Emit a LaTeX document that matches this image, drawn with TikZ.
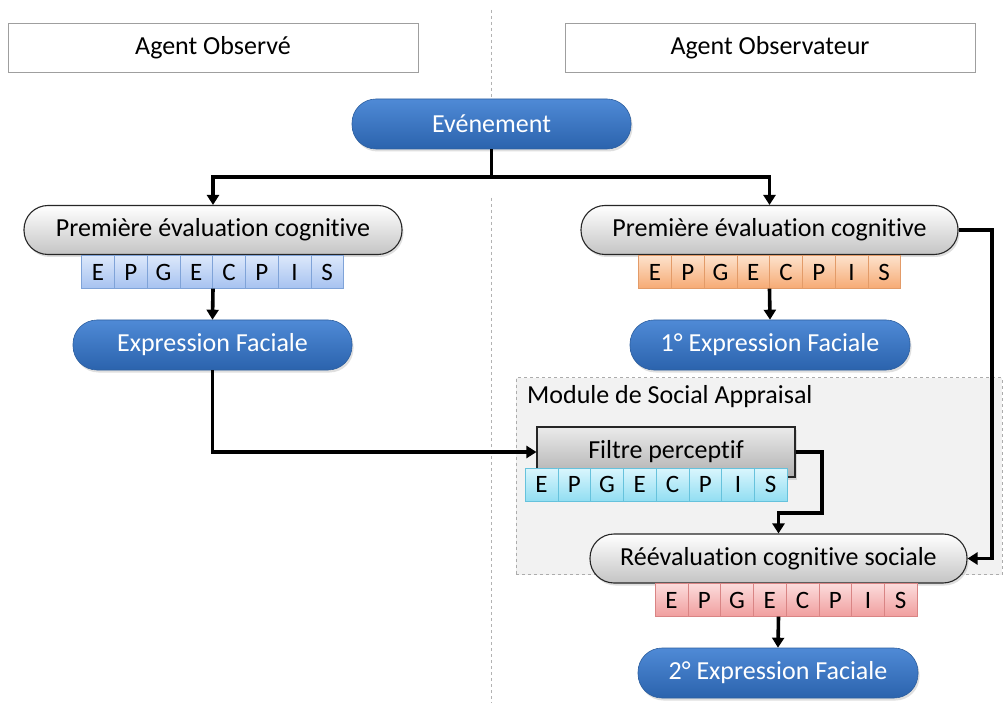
\documentclass[tikz,border=0pt]{standalone}
\usepackage{fontspec}
\setmainfont{Carlito}[Ligatures=NoCommon]
\usetikzlibrary{arrows.meta,shadows,calc}
\definecolor{blueTop}{HTML}{4F8AD6}
\definecolor{blueBot}{HTML}{2B63AD}
\definecolor{blueLine}{HTML}{2D5F9F}
\definecolor{grayBot}{HTML}{C4C4C4}
\definecolor{barBlueT}{HTML}{DCE8FB}
\definecolor{barBlueB}{HTML}{A6C2F0}
\definecolor{barBlueL}{HTML}{7FA3D8}
\definecolor{barOrT}{HTML}{FDE2CC}
\definecolor{barOrB}{HTML}{F6AA74}
\definecolor{barOrL}{HTML}{E39B68}
\definecolor{barCyT}{HTML}{DAF6FD}
\definecolor{barCyB}{HTML}{92DEF2}
\definecolor{barCyL}{HTML}{66C2DC}
\definecolor{barRdT}{HTML}{FCDCDC}
\definecolor{barRdB}{HTML}{F09E9E}
\definecolor{barRdL}{HTML}{D98484}
\definecolor{modFill}{HTML}{F2F2F2}
\tikzset{
  txt/.style={font=\fontsize{26}{30}\selectfont},
  header/.style={draw=gray!75, line width=0.8, fill=white, minimum width=410, minimum height=49, inner sep=0, txt},
  bluepill/.style={rounded corners=24, top color=blueTop, bottom color=blueBot, draw=blueLine, line width=0.6,
     text=white, minimum height=50, inner sep=0, txt, drop shadow={opacity=0.25, shadow xshift=1.5pt, shadow yshift=-2.5pt}},
  graypill/.style={rounded corners=24, top color=white, bottom color=grayBot, draw=black!85, line width=1.1,
     minimum height=49, inner sep=0, txt, drop shadow={opacity=0.25, shadow xshift=1.5pt, shadow yshift=-2.5pt}},
  filtrebox/.style={top color=white!92!black, bottom color=grayBot!90!black, draw=black!85, line width=1.1,
     minimum height=50, minimum width=258, inner sep=0, txt, drop shadow={opacity=0.25, shadow xshift=1.5pt, shadow yshift=-2.5pt}},
  barbox/.style={minimum width=262, minimum height=33, inner sep=0, draw=none},
  cellbox/.style={minimum width=32.75, minimum height=33, inner sep=0, line width=0.6, font=\fontsize{25}{28}\selectfont},
  conn/.style={line width=3.6, -{Triangle[width=12pt,length=10pt]}},
  plainconn/.style={line width=3.6},
  divider/.style={draw=gray!60, dashed, line width=0.8},
  module/.style={draw=gray!65, dashed, fill=modFill, line width=0.8, minimum width=486, minimum height=197, inner sep=0}
}
\newcommand{\epgbar}[4]{% name, top, bottom, line
  \foreach \l [count=\i] in {E,P,G,E,C,P,I,S}{
    \node[cellbox, top color=#2, bottom color=#3, draw=#4, anchor=west]
      (#1c\i) at ($(#1.west)+(\i*32.75-32.75,0)$) {\l};
  }}
\begin{document}
\begin{tikzpicture}[x=1pt,y=-1pt]
\useasboundingbox (0,0) rectangle (1004,703);
\fill[white] (0,0) rectangle (1004,703);

% divider
\coordinate (dv1) at (491,10);
\coordinate (dv2) at (491,97);
\coordinate (dv3) at (491,198);
\coordinate (dv4) at (491,703);
\draw[divider] (dv1) -- (dv2);
\draw[divider] (dv3) -- (dv4);

% headers
\node[header] (hl) at (213,47.5) {Agent Observé};
\node[header] (hr) at (770,47.5) {Agent Observateur};

% module
\node[module] (mod) at (759,476) {};
\node[anchor=west, txt, inner sep=0] (modlabel) at (527,397) {Module de Social Appraisal};

% nodes
\node[bluepill, minimum width=279] (ev) at (491.5,124) {Evénement};
\node[graypill, minimum width=378] (pl) at (213,230) {Première évaluation cognitive};
\node[graypill, minimum width=377] (pr) at (769.5,230) {Première évaluation cognitive};
\node[bluepill, minimum width=279] (efl) at (212.5,345) {Expression Faciale};
\node[bluepill, minimum width=280] (efr) at (770,345) {1° Expression Faciale};
\node[filtrebox] (fp) at (666,452) {Filtre perceptif};
\node[graypill, minimum width=377] (re) at (778.5,558.5) {Réévaluation cognitive sociale};
\node[bluepill, minimum width=280] (ef2) at (778,673) {2° Expression Faciale};

% bars
\node[barbox] (bl) at (212.5,272) {};
\epgbar{bl}{barBlueT}{barBlueB}{barBlueL}
\node[barbox] (bo) at (769.5,272) {};
\epgbar{bo}{barOrT}{barOrB}{barOrL}
\node[barbox] (bc) at (656,484.5) {};
\epgbar{bc}{barCyT}{barCyB}{barCyL}
\node[barbox] (brd) at (786,600) {};
\epgbar{brd}{barRdT}{barRdB}{barRdL}

% connectors
\coordinate (split) at (491.5,177);
\draw[plainconn] (ev.south) -- (split);
\draw[conn] (split) -| (pl.north);
\draw[conn] (split) -| (pr.north);
\draw[conn] (pl |- bl.south) -- (efl.north);
\draw[conn] (pr |- bo.south) -- (efr.north);
\draw[conn] (efl.south) |- (fp.west);
\coordinate (fpbend) at (822,513);
\draw[conn] (fp.east) -| (fpbend) -| (re.north);
\coordinate (fb) at (992,558.5);
\draw[conn] (pr.east) -| (fb) -- (re.east);
\draw[conn] (re |- brd.south) -- (ef2.north);
\end{tikzpicture}
\end{document}
